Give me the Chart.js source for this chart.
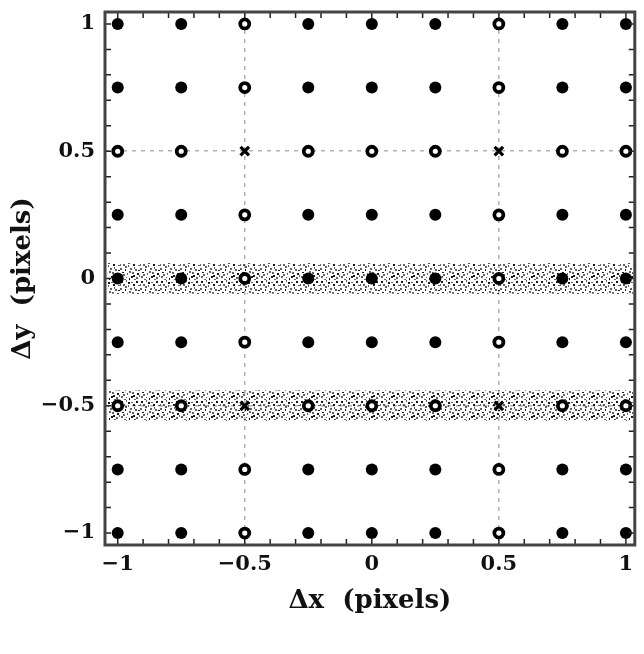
<!DOCTYPE html>
<html>
<head>
<meta charset="utf-8">
<script src="https://cdn.jsdelivr.net/npm/chart.js@4/dist/chart.umd.min.js"></script>
<style>
  body { margin: 0; background: #fff; }
  #wrap { width: 644px; height: 654px; }
</style>
</head>
<body>
<div id="wrap"><canvas id="offsetChart" width="644" height="654"></canvas></div>
<script>
// grid of sub-pixel offsets
const xVals = [-1, -0.75, -0.5, -0.25, 0, 0.25, 0.5, 0.75, 1]
const yVals = [1, 0.75, 0.5, 0.25, 0, -0.25, -0.5, -0.75, -1]
// D = solid dot, R = ring, X = cross (one string per row, top to bottom)
const kinds = [
    'DDRDDDRDD',
    'DDRDDDRDD',
    'RRXRRRXRR',
    'DDRDDDRDD',
    'DDRDDDRDD',
    'DDRDDDRDD',
    'RRXRRRXRR',
    'DDRDDDRDD',
    'DDRDDDRDD'
]
// scattered bands
const bandY = [0, -0.5]
const bandHalf = [0.06, 0.06]
const bandX = [-1.04, 1.03]

const tickVals = [-1, -0.5, 0, 0.5, 1]
const tickText = ['\u22121', '\u22120.5', '0', '0.5', '1']
const minorStep = 0.1

const serif = '"DejaVu Serif", "Liberation Serif", serif'

const pointsOf = (k) => {
    const out = []
    yVals.forEach((y, r) => xVals.forEach((x, c) => {
        if (kinds[r][c] === k) out.push({x, y})
    }))
    return out
}

// speckle tile used to fill the bands
const makeSpeckle = () => {
    const specks = [[1,1],[6,0],[11,2],[16,1],[3,4],[8,5],[13,4],[18,5],[0,8],[5,9],[10,8],[15,9],
        [2,12],[7,13],[12,12],[17,13],[1,16],[6,17],[11,16],[16,17],[4,19],[9,18],[14,19],[19,15],
        [8,2],[14,7],[3,14],[18,10],[9,11],[0,4],[13,15],[5,6]]
    const c = document.createElement('canvas')
    c.width = 20; c.height = 20
    const g = c.getContext('2d')
    specks.forEach(([x, y], i) => {
        g.fillStyle = i % 3 === 0 ? 'rgba(0,0,0,0.9)' : 'rgba(30,30,30,0.7)'
        g.fillRect(x, y, i % 4 === 1 ? 1 : 2, i % 5 === 2 ? 1 : 2)
    })
    return g.createPattern(c, 'repeat')
}

const speckle = makeSpeckle()

const bandSets = []
bandY.forEach((y, i) => {
    bandSets.push({
        type: 'line',
        data: bandX.map(x => ({x, y: y + bandHalf[i]})),
        pointRadius: 0, borderWidth: 0, borderColor: 'rgba(0,0,0,0)',
        backgroundColor: speckle, fill: '+1', order: 5
    })
    bandSets.push({
        type: 'line',
        data: bandX.map(x => ({x, y: y - bandHalf[i]})),
        pointRadius: 0, borderWidth: 0, borderColor: 'rgba(0,0,0,0)',
        fill: false, order: 5
    })
})

const datasets = [
    {data: pointsOf('D'), pointStyle: 'circle', pointRadius: 6, backgroundColor: '#000', borderColor: '#000', borderWidth: 0, order: 1},
    {data: pointsOf('R'), pointStyle: 'circle', pointRadius: 4.5, backgroundColor: '#fff', borderColor: '#000', borderWidth: 3.8, order: 1},
    {data: pointsOf('X'), pointStyle: 'crossRot', pointRadius: 6, borderColor: '#000', borderWidth: 3.2, order: 1},
    ...bandSets
]

// box and inward ticks on all four sides
const framePlugin = {
    id: 'frame',
    afterDatasetsDraw(chart) {
        const {ctx, chartArea: a, scales} = chart
        ctx.save()
        ctx.strokeStyle = '#222'
        ctx.lineWidth = 1.5
        ctx.beginPath()
        for (let v = -1; v <= 1.0001; v += minorStep) {
            const px = scales.x.getPixelForValue(v)
            const py = scales.y.getPixelForValue(v)
            ctx.moveTo(px, a.bottom); ctx.lineTo(px, a.bottom - 6)
            ctx.moveTo(px, a.top); ctx.lineTo(px, a.top + 6)
            ctx.moveTo(a.left, py); ctx.lineTo(a.left + 6, py)
            ctx.moveTo(a.right, py); ctx.lineTo(a.right - 6, py)
        }
        ctx.stroke()
        ctx.strokeStyle = '#444'
        ctx.lineWidth = 3
        ctx.strokeRect(a.left, a.top, a.right - a.left, a.bottom - a.top)
        ctx.restore()
    }
}

const gridColor = (c) => (c.tick && Math.abs(c.tick.value) === 0.5) ? '#b0b0b0' : 'rgba(0,0,0,0)'
const tickLabel = (v) => tickText[tickVals.indexOf(v)]

new Chart('offsetChart', {
    type: 'scatter',
    data: {datasets},
    options: {
        responsive: false,
        animation: false,
        layout: {padding: {top: 12, right: 5, left: 0, bottom: 0}},
        plugins: {legend: {display: false}, tooltip: {enabled: false}},
        scales: {
            x: {
                type: 'linear', min: -1.05, max: 1.035,
                afterBuildTicks: s => { s.ticks = tickVals.map(value => ({value})) },
                afterFit: s => { s.height = 109; s.paddingLeft = 0; s.paddingRight = 0 },
                grid: {drawTicks: false, color: gridColor, lineWidth: 1.5},
                border: {display: false, dash: [4, 5]},
                ticks: {callback: tickLabel, color: '#111', padding: 7, maxRotation: 0, autoSkip: false,
                    font: {family: serif, weight: 'bold', size: 21}},
                title: {display: true, text: '\u0394x  (pixels)', color: '#111',
                    font: {family: serif, weight: 'bold', size: 26}, padding: {top: 0, bottom: 37}}
            },
            y: {
                type: 'linear', min: -1.047, max: 1.047,
                afterBuildTicks: s => { s.ticks = tickVals.map(value => ({value})) },
                afterFit: s => { s.width = 105; s.paddingTop = 0; s.paddingBottom = 0 },
                grid: {drawTicks: false, color: gridColor, lineWidth: 1.5},
                border: {display: false, dash: [4, 5]},
                ticks: {callback: tickLabel, color: '#111', padding: 10, autoSkip: false,
                    font: {family: serif, weight: 'bold', size: 21}},
                title: {display: true, text: '\u0394y  (pixels)', color: '#111',
                    font: {family: serif, weight: 'bold', size: 26}, padding: {top: 8, bottom: 0}}
            }
        }
    },
    plugins: [framePlugin]
})
</script>
</body>
</html>
